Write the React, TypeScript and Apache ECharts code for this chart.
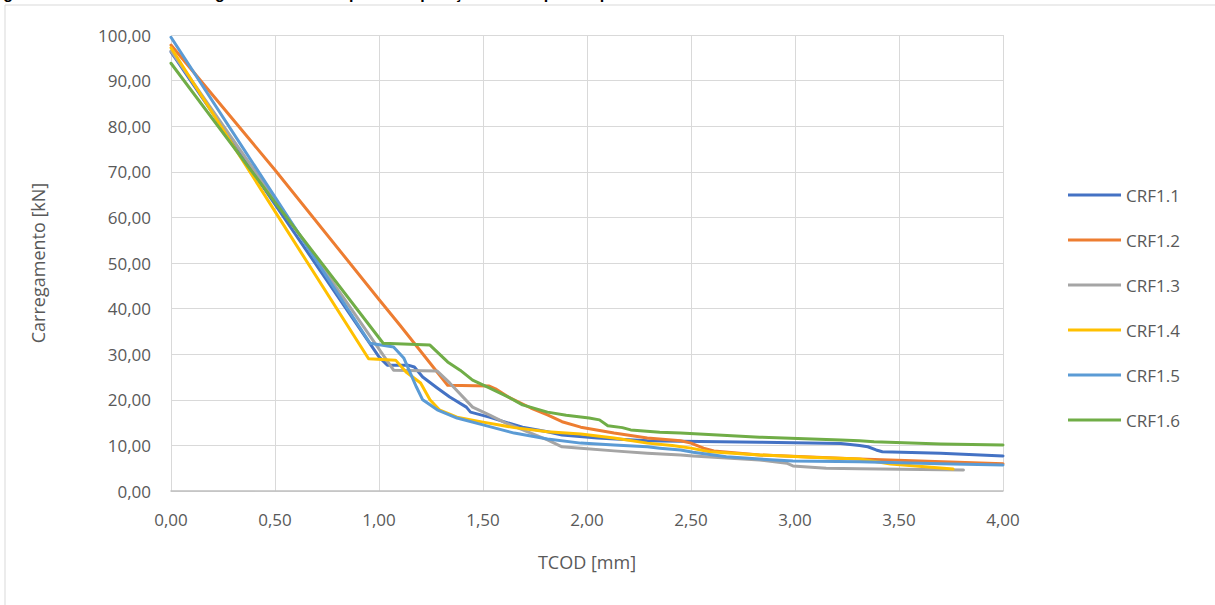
import React, { useEffect, useRef } from "react";
import * as echarts from "echarts";

const seriesNames = ["CRF1.1", "CRF1.2", "CRF1.3", "CRF1.4", "CRF1.5", "CRF1.6"];
const seriesColors = ["#4472C4", "#ED7D31", "#A5A5A5", "#FFC000", "#5B9BD5", "#70AD47"];

const crf11X = [0, 1.0, 1.04, 1.14, 1.17, 1.21, 1.28, 1.34, 1.42, 1.44, 1.53, 1.6, 1.69, 1.81, 1.88, 2.05, 2.29, 2.45, 2.83, 3.22, 3.31, 3.35, 3.39, 3.42, 3.7, 4.0];
const crf11Y = [96.3, 29.4, 27.6, 27.6, 27.2, 25.0, 22.6, 20.6, 18.4, 17.3, 16.2, 15.2, 14.0, 13.0, 12.3, 11.6, 11.0, 10.9, 10.7, 10.4, 10.0, 9.7, 9.0, 8.6, 8.3, 7.7];

const crf12X = [0, 0.5, 1.0, 1.1, 1.33, 1.53, 1.56, 1.63, 1.73, 1.81, 1.88, 1.97, 2.13, 2.29, 2.45, 2.5, 2.56, 2.61, 2.83, 3.22, 3.31, 4.0];
const crf12Y = [97.8, 70.4, 42.0, 36.4, 23.2, 23.0, 22.4, 20.4, 18.2, 16.7, 15.2, 14.0, 12.7, 11.6, 11.0, 10.5, 9.4, 8.8, 7.9, 7.2, 7.0, 6.0];

const crf13X = [0, 0.86, 1.07, 1.28, 1.34, 1.45, 1.53, 1.61, 1.73, 1.81, 1.88, 1.97, 2.13, 2.29, 2.45, 2.51, 2.83, 2.96, 2.99, 3.15, 3.31, 3.81];
const crf13Y = [96.5, 40.4, 26.5, 26.3, 23.7, 18.4, 16.7, 14.9, 12.7, 11.2, 9.7, 9.4, 8.8, 8.3, 7.9, 7.7, 6.8, 6.1, 5.5, 5.0, 4.9, 4.6];

const crf14X = [0, 0.95, 1.08, 1.13, 1.2, 1.245, 1.29, 1.375, 1.5, 1.65, 1.81, 1.97, 2.13, 2.29, 2.41, 2.5, 2.59, 2.83, 3.07, 3.31, 3.46, 3.76];
const crf14Y = [97.2, 29.0, 28.7, 26.1, 23.7, 20.0, 17.8, 16.2, 15.1, 13.9, 13.0, 12.5, 11.6, 10.5, 10.0, 9.4, 8.6, 7.9, 7.4, 7.0, 5.9, 4.8];

const crf15X = [0, 0.957, 1.07, 1.12, 1.18, 1.21, 1.28, 1.375, 1.5, 1.65, 1.81, 1.97, 2.13, 2.29, 2.35, 2.45, 2.51, 2.67, 2.83, 2.99, 3.31, 3.7, 4.0];
const crf15Y = [99.5, 32.4, 31.6, 29.1, 22.8, 20.0, 17.8, 16.0, 14.5, 12.7, 11.4, 10.5, 10.1, 9.7, 9.4, 9.0, 8.5, 7.5, 7.0, 6.6, 6.4, 6.0, 5.7];

const crf16X = [0, 0.5, 1.02, 1.245, 1.33, 1.39, 1.45, 1.53, 1.63, 1.69, 1.81, 1.9, 2.01, 2.06, 2.1, 2.17, 2.21, 2.35, 2.45, 2.83, 3.22, 3.31, 3.38, 3.7, 4.0];
const crf16Y = [93.8, 63.3, 32.4, 32.0, 28.3, 26.5, 24.3, 22.6, 20.4, 18.9, 17.3, 16.6, 16.0, 15.6, 14.3, 13.9, 13.4, 12.9, 12.7, 11.8, 11.2, 11.0, 10.8, 10.3, 10.1];

const allX = [crf11X, crf12X, crf13X, crf14X, crf15X, crf16X];
const allY = [crf11Y, crf12Y, crf13Y, crf14Y, crf15Y, crf16Y];

const xMin = 0, xMax = 4, xStep = 0.5;
const yMin = 0, yMax = 100, yStep = 10;
const xTitle = "TCOD [mm]";
const yTitle = "Carregamento [kN]";
const figTitle = "Figura 4.12 – Curvas de Carregamento x TCOD para comparação dos corpos de prova";

const fmt = (v: number) => v.toFixed(2).replace(".", ",");
const FONT = "'Open Sans', 'Noto Sans', sans-serif";

export default function App() {
  const ref = useRef<HTMLDivElement>(null);
  useEffect(() => {
    document.body.style.margin = "0";
    const chart = echarts.init(ref.current!, null, { renderer: "svg" });
    const series = seriesNames.map((name, i) => ({
      name,
      type: "line",
      data: allX[i].map((x, j) => [x, allY[i][j]]),
      showSymbol: false,
      symbol: "none",
      smooth: false,
      lineStyle: { width: 3, color: seriesColors[i], cap: "round", join: "round" },
      itemStyle: { color: seriesColors[i] },
      z: 2 + i,
    }));
    chart.setOption({
      animation: false,
      backgroundColor: "#ffffff",
      textStyle: { fontFamily: FONT },
      graphic: [
        {
          type: "rect",
          shape: { x: 5, y: 5, width: 1400, height: 800 },
          style: { fill: "none", stroke: "#d9d9d9", lineWidth: 1 },
          silent: true,
          z: -10,
        },
        {
          type: "text",
          x: -11,
          y: 1,
          style: {
            text: figTitle,
            fill: "#000000",
            font: "bold 16px 'Liberation Sans', Arial, sans-serif",
            verticalAlign: "bottom",
          },
          silent: true,
        },
      ],
      grid: { left: 171, top: 35, right: 212, bottom: 114, containLabel: false },
      legend: {
        orient: "vertical",
        left: 1063,
        top: 180,
        icon: "rect",
        itemWidth: 53,
        itemHeight: 3,
        itemGap: 25,
        data: seriesNames,
        textStyle: { fontFamily: FONT, fontSize: 17, color: "#595959", lineHeight: 20, padding: [0, 0, 0, 0] },
      },
      xAxis: {
        type: "value",
        min: xMin,
        max: xMax,
        interval: xStep,
        name: xTitle,
        nameLocation: "middle",
        nameGap: 62,
        nameTextStyle: { fontFamily: FONT, fontSize: 18, color: "#595959" },
        axisLine: { show: true, lineStyle: { color: "#bfbfbf", width: 1.5 } },
        axisTick: { show: false },
        axisLabel: { formatter: fmt, fontFamily: FONT, fontSize: 17, color: "#595959", margin: 20 },
        splitLine: { show: true, lineStyle: { color: "#d9d9d9", width: 1 } },
      },
      yAxis: {
        type: "value",
        min: yMin,
        max: yMax,
        interval: yStep,
        name: yTitle,
        nameLocation: "middle",
        nameGap: 124,
        nameTextStyle: { fontFamily: FONT, fontSize: 18, color: "#595959" },
        axisLine: { show: false },
        axisTick: { show: false },
        axisLabel: { formatter: fmt, fontFamily: FONT, fontSize: 17, color: "#595959", margin: 20 },
        splitLine: { show: true, lineStyle: { color: "#d9d9d9", width: 1 } },
      },
      series,
    });
    return () => chart.dispose();
  }, []);
  return <div ref={ref} style={{ position: "absolute", left: 0, top: 0, width: 1215, height: 605 }} />;
}
